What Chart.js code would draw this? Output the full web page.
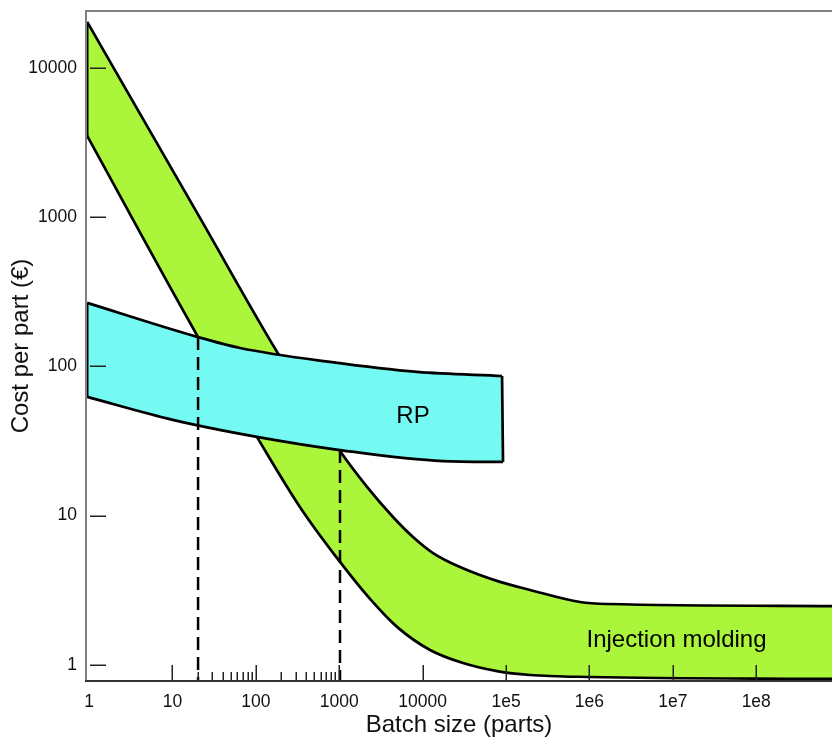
<!DOCTYPE html>
<html lang="en-US">
<head>
  <meta charset="utf-8">
  <title>Cost per part vs batch size</title>
  <script src="https://cdn.jsdelivr.net/npm/chart.js@4/dist/chart.umd.min.js"></script>
  <style>
    html, body { margin: 0; padding: 0; background: #fff; }
    .wrapper { width: 832px; height: 740px; }
  </style>
</head>
<body>
  <div class="wrapper">
    <canvas id="chart-0"></canvas>
  </div>

  <script>
    // tick values / labels
    let xTickValues = [1, 10, 100, 1000, 10000, 1e5, 1e6, 1e7, 1e8];
    let xTickLabels = ['1', '10', '100', '1000', '10000', '1e5', '1e6', '1e7', '1e8'];
    let xMinorTicks = [20, 30, 40, 50, 60, 70, 80, 90, 200, 300, 400, 500, 600, 700, 800, 900];
    let yTickValues = [1, 10, 100, 1000, 10000];
    let yTickLabels = ['1', '10', '100', '1000', '10000'];

    // injection molding band (batch size, cost per part)
    let imUpperX = [0.95, 21.4, 180, 1022, 2155, 4415, 7670, 13330, 28060, 84700, 194000, 771000, 1.63e6, 1e9];
    let imUpperY = [20270, 986, 124.8, 27.1, 15.6, 9.8, 7.2, 5.62, 4.53, 3.6, 3.18, 2.64, 2.56, 2.48];
    let imLowerX = [0.95, 20.3, 103, 339, 1022, 2340, 4930, 12270, 30500, 78000, 194000, 1.02e6, 1e9];
    let imLowerY = [3493, 157, 33.7, 11.4, 4.9, 2.77, 1.8, 1.26, 1.03, 0.91, 0.857, 0.831, 0.806];

    // RP band
    let rpUpperX = [0.95, 20.3, 64.7, 776, 8570, 89600];
    let rpUpperY = [266, 157, 132.8, 107, 91.7, 86.2];
    let rpLowerX = [0.95, 10.1, 103, 1022, 17570, 92000];
    let rpLowerY = [62.4, 43.8, 33.7, 27.5, 23.2, 22.9];

    // break-even batch sizes (dashed)
    let breakEvenX = [20.3, 1022];
    let breakEvenY = [157, 27.5];

    let green = '#abf53b';
    let cyan = '#75faf3';

    function pts(xs, ys) {
      return xs.map((x, i) => ({x: x, y: ys[i]}));
    }

    function edge(x0, y0, x1, y1) {
      return {
        data: [{x: x0, y: y0}, {x: x1, y: y1}],
        borderColor: '#000',
        borderWidth: 2.7,
        fill: false
      };
    }

    let datasets = [
      {
        data: [{x: breakEvenX[0], y: breakEvenY[0]}, {x: breakEvenX[0], y: 0.5}],
        borderColor: '#000', borderWidth: 2.5, borderDash: [13, 7], fill: false
      },
      {
        data: [{x: breakEvenX[1], y: breakEvenY[1]}, {x: breakEvenX[1], y: 0.5}],
        borderColor: '#000', borderWidth: 2.5, borderDash: [13, 7], fill: false
      },
      edge(rpUpperX[0], rpUpperY[0], rpLowerX[0], rpLowerY[0]),
      edge(rpUpperX[rpUpperX.length - 1], rpUpperY[rpUpperY.length - 1],
           rpLowerX[rpLowerX.length - 1], rpLowerY[rpLowerY.length - 1]),
      {
        data: pts(rpUpperX, rpUpperY),
        borderColor: '#000', borderWidth: 2.7, fill: false,
        cubicInterpolationMode: 'monotone'
      },
      {
        data: pts(rpLowerX, rpLowerY),
        borderColor: '#000', borderWidth: 2.7, fill: '-1', backgroundColor: cyan,
        cubicInterpolationMode: 'monotone'
      },
      edge(imUpperX[0], imUpperY[0], imLowerX[0], imLowerY[0]),
      {
        data: pts(imUpperX, imUpperY),
        borderColor: '#000', borderWidth: 2.7, fill: false,
        cubicInterpolationMode: 'monotone'
      },
      {
        data: pts(imLowerX, imLowerY),
        borderColor: '#000', borderWidth: 2.7, fill: '-1', backgroundColor: green,
        cubicInterpolationMode: 'monotone'
      }
    ];

    // frame, inner tick marks and band labels
    let decorations = {
      id: 'decorations',
      afterDatasetsDraw(chart) {
        let ctx = chart.ctx;
        let a = chart.chartArea;
        let x = chart.scales.x;
        let y = chart.scales.y;
        ctx.save();

        ctx.strokeStyle = '#222';
        ctx.lineWidth = 1.5;
        ctx.beginPath();
        xTickValues.slice(1).forEach(v => {
          let px = Math.round(x.getPixelForValue(v)) + 0.25;
          ctx.moveTo(px, a.bottom);
          ctx.lineTo(px, a.bottom - 16);
        });
        xMinorTicks.forEach(v => {
          let px = Math.round(x.getPixelForValue(v)) + 0.25;
          ctx.moveTo(px, a.bottom);
          ctx.lineTo(px, a.bottom - 9);
        });
        yTickValues.forEach(v => {
          let py = Math.round(y.getPixelForValue(v)) + 0.25;
          ctx.moveTo(a.left + 4, py);
          ctx.lineTo(a.left + 20, py);
        });
        ctx.stroke();

        ctx.strokeStyle = '#808080';
        ctx.lineWidth = 2;
        ctx.beginPath();
        ctx.moveTo(a.left, a.bottom);
        ctx.lineTo(a.left, a.top);
        ctx.lineTo(a.right, a.top);
        ctx.stroke();

        ctx.strokeStyle = '#333';
        ctx.lineWidth = 2;
        ctx.beginPath();
        ctx.moveTo(a.left - 1, a.bottom);
        ctx.lineTo(a.right, a.bottom);
        ctx.stroke();

        ctx.fillStyle = '#000';
        ctx.font = '24px "Liberation Sans", Arial, sans-serif';
        ctx.textAlign = 'center';
        ctx.textBaseline = 'alphabetic';
        ctx.fillText('RP', x.getPixelForValue(7670), y.getPixelForValue(41.8));
        ctx.fillText('Injection molding', x.getPixelForValue(1.107e7), y.getPixelForValue(1.326));
        ctx.restore();
      }
    };

    let tickFont = {family: '"Liberation Sans", Arial, sans-serif', size: 17.5};
    let titleFont = {family: '"Liberation Sans", Arial, sans-serif', size: 24};

    let chart = new Chart('chart-0', {
      type: 'scatter',
      data: {datasets: datasets},
      options: {
        responsive: true,
        maintainAspectRatio: false,
        animation: false,
        showLine: true,
        elements: {point: {radius: 0, hoverRadius: 0}},
        layout: {padding: {top: 11, right: 0, left: 0, bottom: 0}},
        plugins: {
          legend: {display: false},
          tooltip: {enabled: false}
        },
        scales: {
          x: {
            type: 'logarithmic',
            min: 0.92,
            max: 8.1e8,
            afterFit: s => { s.height = 59; s.paddingLeft = 0; s.paddingRight = 0; },
            afterBuildTicks: s => { s.ticks = xTickValues.map(v => ({value: v})); },
            grid: {drawOnChartArea: false, drawTicks: false},
            border: {display: false},
            ticks: {
              autoSkip: false,
              maxRotation: 0,
              padding: 11,
              color: '#111',
              font: tickFont,
              callback: (v, i) => xTickLabels[i]
            },
            title: {
              display: true,
              text: 'Batch size (parts)',
              color: '#111',
              font: titleFont,
              padding: {top: 0, bottom: 0}
            }
          },
          y: {
            type: 'logarithmic',
            min: 0.781,
            max: 23980,
            afterFit: s => { s.width = 86; s.paddingTop = 0; s.paddingBottom = 0; },
            afterBuildTicks: s => { s.ticks = yTickValues.map(v => ({value: v})); },
            grid: {drawOnChartArea: false, drawTicks: false},
            border: {display: false},
            ticks: {
              autoSkip: false,
              padding: 9,
              color: '#111',
              font: tickFont,
              callback: (v, i) => yTickLabels[i]
            },
            title: {
              display: true,
              text: 'Cost per part (€)',
              color: '#111',
              font: titleFont,
              padding: {top: 7, bottom: 0}
            }
          }
        }
      },
      plugins: [decorations]
    });
  </script>
</body>
</html>
